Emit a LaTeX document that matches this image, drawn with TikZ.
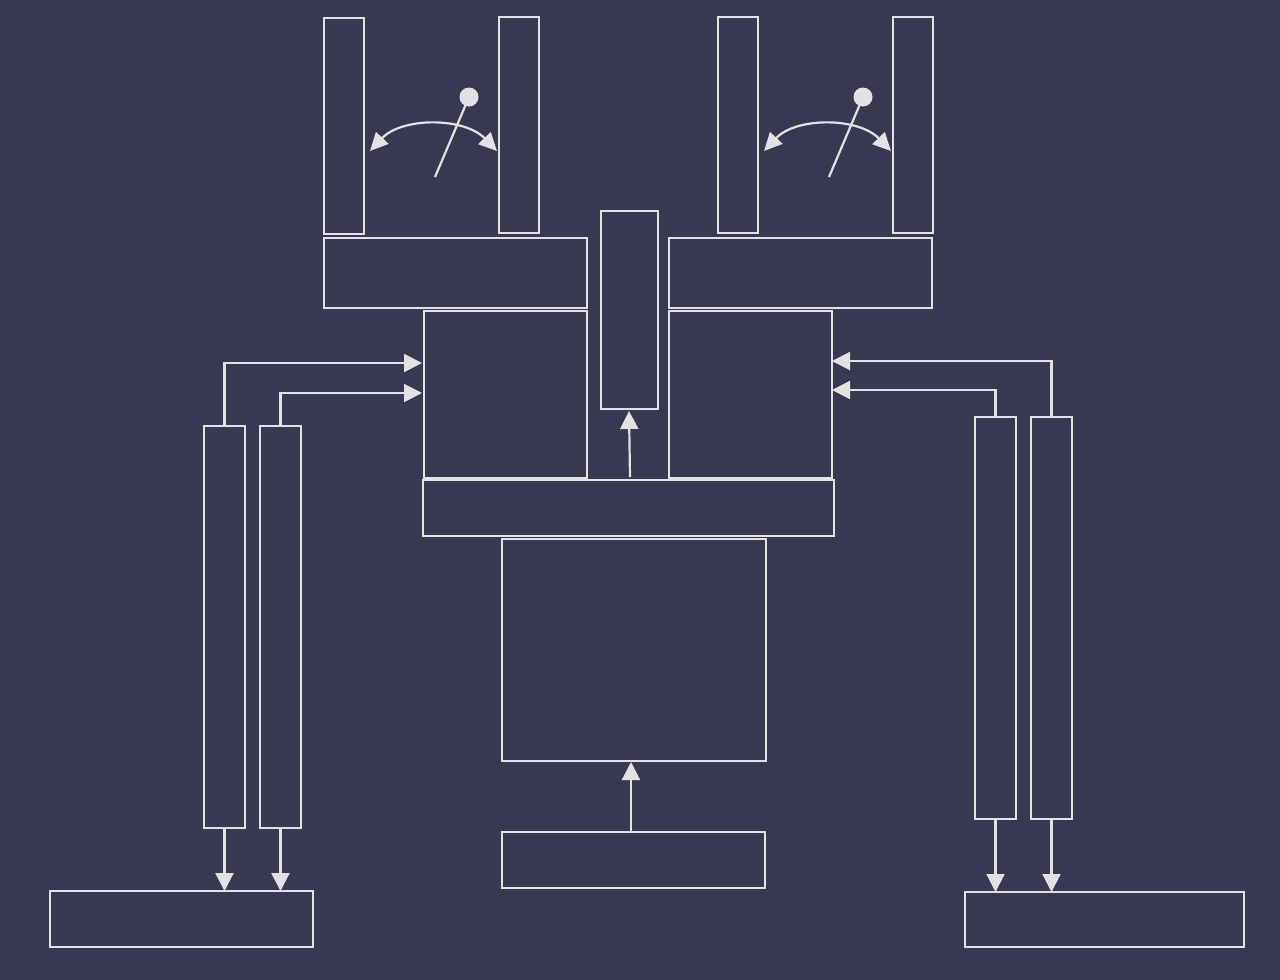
\documentclass[tikz,border=0pt]{standalone}
\usetikzlibrary{arrows.meta}
\definecolor{bg}{RGB}{56,56,80}
\definecolor{fg}{RGB}{226,226,228}
\begin{document}
\begin{tikzpicture}[x=1pt,y=-1pt,
  box/.style={draw=fg,line width=2.2pt,inner sep=0pt,outer sep=0pt,anchor=north west},
  conn/.style={draw=fg,line width=2.2pt,-{Triangle[length=18pt,width=18pt]}},
  dconn/.style={draw=fg,line width=2.2pt,{Triangle[length=18pt,width=17pt]}-{Triangle[length=18pt,width=17pt]}},
  needle/.style={draw=fg,line width=2.2pt}]
\fill[bg] (0,0) rectangle (1280,980);
\useasboundingbox (0,0) rectangle (1280,980);
% boxes: name, top-left, size
\newcommand{\bx}[5]{\node[box,minimum width=#4pt,minimum height=#5pt] (#1) at (#2,#3) {};}
\bx{tl1}{324}{18}{40}{216}
\bx{tl2}{499}{17}{40}{216}
\bx{tr1}{718}{17}{40}{216}
\bx{tr2}{893}{17}{40}{216}
\bx{barL}{324}{238}{263}{70}
\bx{barR}{669}{238}{263}{70}
\bx{mid}{601}{211}{57}{198}
\bx{boxL}{424}{311}{163}{167}
\bx{boxR}{669}{311}{163}{167}
\bx{wide}{423}{480}{411}{56}
\bx{big}{502}{539}{264}{222}
\bx{base}{502}{832}{263}{56}
\bx{c1}{204}{426}{41}{402}
\bx{c2}{260}{426}{41}{402}
\bx{c3}{975}{417}{41}{402}
\bx{c4}{1031}{417}{41}{402}
\bx{botL}{50}{891}{263}{56}
\bx{botR}{965}{892}{279}{55}
% connectors
\draw[conn] (c1.north) |- ([xshift=-2pt]boxL.west |- 0,363);
\draw[conn] (c2.north) |- ([xshift=-2pt]boxL.west |- 0,393);
\draw[conn] (c4.north) |- (boxR.east |- 0,361);
\draw[conn] (c3.north) |- (boxR.east |- 0,390);
\draw[conn] (c1.south) -- (c1.south |- botL.north);
\draw[conn] (c2.south) -- (c2.south |- botL.north);
\draw[conn] (c3.south) -- (c3.south |- botR.north);
\draw[conn] (c4.south) -- (c4.south |- botR.north);
\draw[conn] ([yshift=3pt]wide.north -| 630,0) -- ([yshift=-2pt]mid.south -| 629,0);
\draw[conn] (base.north -| 631,0) -- ([yshift=-1pt]big.south -| 631,0);
% gauges
\coordinate (gL) at (469,97);
\coordinate (gR) at (863,97);
\fill[fg] (gL) circle (9.5);
\fill[fg] (gR) circle (9.5);
\draw[needle] (gL) -- (435,177);
\draw[needle] (gR) -- (829,177);
\draw[dconn] (370,151) .. controls (402,117) and (464,117) .. (497,151);
\draw[dconn] (764,151) .. controls (796,117) and (858,117) .. (891,151);
\end{tikzpicture}
\end{document}
